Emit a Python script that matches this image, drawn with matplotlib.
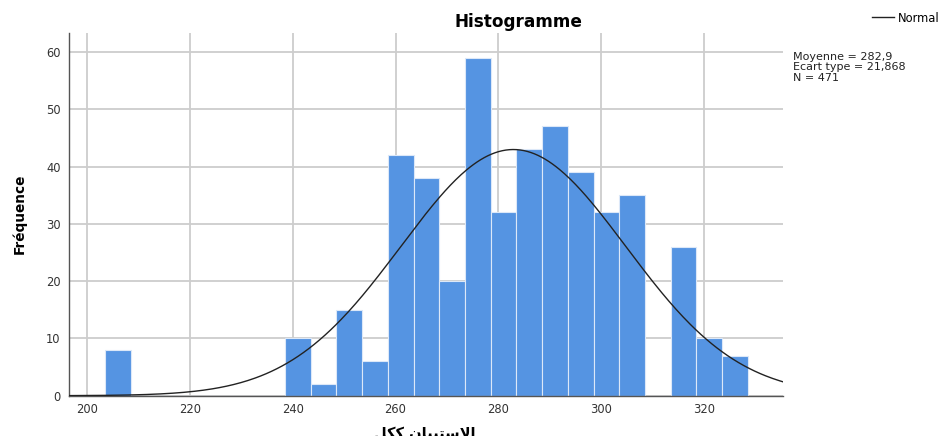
"""SPSS-style histogram of the overall questionnaire score with normal curve."""

import numpy as np
import matplotlib

matplotlib.use("Agg")
import matplotlib.pyplot as plt

# histogram bins (left edges) and counts
bin_edges = [203.5 + 5 * k for k in range(26)]
counts = [8, 0, 0, 0, 0, 0, 0, 10, 2, 15, 6, 42, 38, 20, 59, 32, 43, 47, 39, 32, 35, 0, 26, 10, 7]

mean_value = 282.9
std_value = 21.868
n_obs = 471

x_ticks = [200, 220, 240, 260, 280, 300, 320]
y_ticks = [0, 10, 20, 30, 40, 50, 60]

# Arabic label in presentation forms, visual order (matplotlib has no shaping)
x_label = "\uFEDE\uFEDC\uFEDB \uFEE5\uFE8E\uFEF4\uFE92\uFE98\uFEB3\uFEFB\uFE8D"

plt.rcParams["font.family"] = ["DejaVu Sans"]

fig = plt.figure(figsize=(9.39, 4.36), dpi=100)
ax = fig.add_axes([69 / 939, 1 - 395.7 / 436, (783.3 - 69) / 939, (395.7 - 33) / 436])

widths = np.diff(bin_edges)
ax.bar(bin_edges[:-1], counts, width=widths, align="edge", color="#5594e2",
       edgecolor="#dce8f8", linewidth=0.8, zorder=2)

xs = np.linspace(196.5, 335.4, 400)
bw = bin_edges[1] - bin_edges[0]
pdf = np.exp(-0.5 * ((xs - mean_value) / std_value) ** 2) / (std_value * np.sqrt(2 * np.pi))
curve, = ax.plot(xs, n_obs * bw * pdf, color="#222222", linewidth=1.0, zorder=3)

ax.set_xlim(196.5, 335.4)
ax.set_ylim(0, 63.3)
ax.set_xticks(x_ticks)
ax.set_yticks(y_ticks)
ax.grid(True, color="#cdcdcd", linewidth=1.3, zorder=0)
ax.set_axisbelow(True)
for side in ("top", "right"):
    ax.spines[side].set_visible(False)
for side in ("left", "bottom"):
    ax.spines[side].set_color("#555555")
    ax.spines[side].set_linewidth(1.0)
ax.tick_params(axis="both", length=0, labelsize=8.3, labelcolor="#333333")
ax.tick_params(axis="x", pad=5)
ax.tick_params(axis="y", pad=6)

fig.text(518 / 939, 1 - 27 / 436, "Histogramme", ha="center", va="baseline",
         fontsize=12.2, fontweight="bold")
fig.text(20 / 939, 1 - 214 / 436, "Fréquence", rotation=90, ha="center", va="center",
         fontsize=9.8, fontweight="bold")
fig.text(425 / 939, 1 - 426 / 436, x_label, ha="center", va="top",
         fontsize=10.5, fontweight="bold")

fig.legend([curve], ["Normal"], loc="center left", bbox_to_anchor=(872 / 939, 1 - 18 / 436),
           frameon=False, fontsize=8.3, handlelength=1.9, handletextpad=0.35,
           borderpad=0, borderaxespad=0)

stats = [
    f"Moyenne = {mean_value:.1f}".replace(".", ","),
    f"Ecart type = {std_value:.3f}".replace(".", ","),
    f"N = {n_obs}",
]
for i, line in enumerate(stats):
    fig.text(793 / 939, 1 - (57 + 10.5 * i) / 436, line, ha="left", va="center",
             fontsize=8.0, color="#222222")

fig.savefig("out.png", dpi=100)
